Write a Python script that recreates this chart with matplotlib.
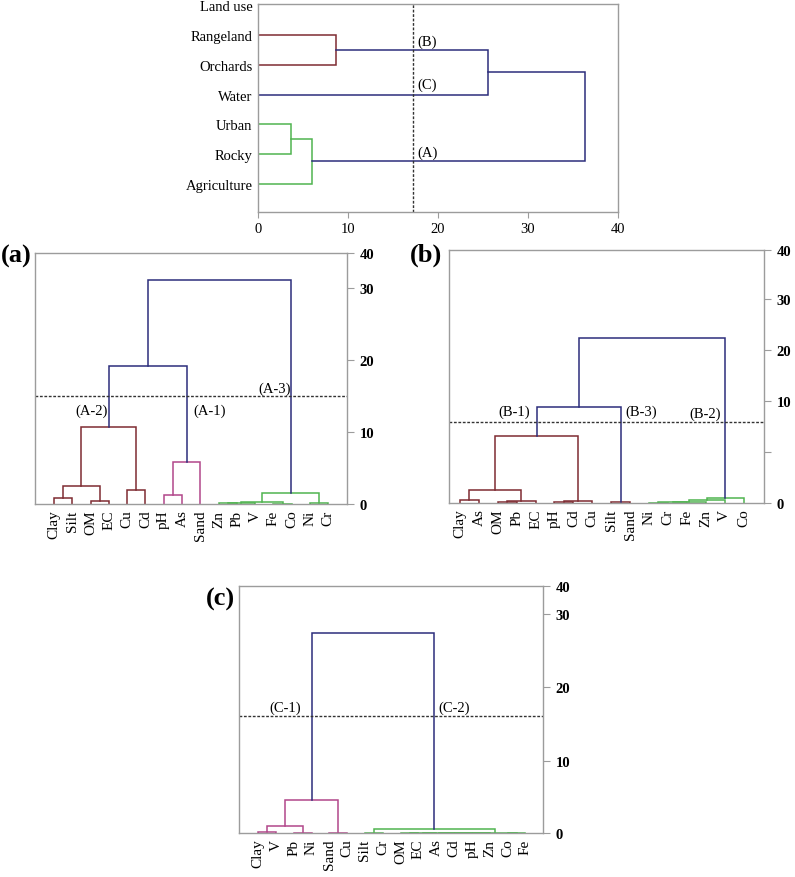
import matplotlib
matplotlib.use("Agg")
import matplotlib.pyplot as plt
import numpy as np

plt.rcParams['font.family'] = ['Liberation Serif', 'DejaVu Serif']

# ---- data ----
# top: land use tree (distance on x)
land_use = ["Rangeland", "Orchards", "Water", "Urban", "Rocky", "Agriculture"]
land_merges = [("Rangeland", "Orchards", 8.7), ("Urban", "Rocky", 3.7),
               (1, "Agriculture", 6.0), (0, "Water", 25.6), (3, 2, 36.3)]
land_groups = ["red", "green", "green", "blue", "blue"]
land_cut = 17.2

# (a)
a_leaves = ["Clay", "Silt", "OM", "EC", "Cu", "Cd", "pH", "As", "Sand",
            "Zn", "Pb", "V", "Fe", "Co", "Ni", "Cr"]
a_merges = [("Clay", "Silt", 0.8), ("OM", "EC", 0.45), (0, 1, 2.45),
            ("Cu", "Cd", 1.9), (2, 3, 10.7), ("pH", "As", 1.3),
            (5, "Sand", 5.75), (4, 6, 19.1), ("Zn", "Pb", 0.1), (8, "V", 0.15),
            ("Fe", "Co", 0.05), (9, 10, 0.32), ("Ni", "Cr", 0.14),
            (11, 12, 1.53), (7, 13, 32.3)]
a_groups = ["red"] * 5 + ["pink"] * 2 + ["blue"] + ["green"] * 6 + ["blue"]
a_cut = 14.9

# (b)
b_leaves = ["Clay", "As", "OM", "Pb", "EC", "pH", "Cd", "Cu", "Silt", "Sand",
            "Ni", "Cr", "Fe", "Zn", "V", "Co"]
b_merges = [("Clay", "As", 0.29), ("OM", "Pb", 0.07), (1, "EC", 0.15),
            (0, 2, 1.27), ("pH", "Cd", 0.05), (4, "Cu", 0.22), (3, 5, 6.58),
            ("Silt", "Sand", 0.08), (6, 7, 9.35), ("Ni", "Cr", 0.02),
            (9, "Fe", 0.06), (10, "Zn", 0.12), (11, "V", 0.32),
            (12, "Co", 0.52), (8, 13, 22.4)]
b_groups = ["red"] * 8 + ["blue"] + ["green"] * 5 + ["blue"]
b_cut = 7.95

# (c)
c_leaves = ["Clay", "V", "Pb", "Ni", "Sand", "Cu", "Silt", "Cr", "OM", "EC",
            "As", "Cd", "pH", "Zn", "Co", "Fe"]
c_merges = [("Clay", "V", 0.1), ("Pb", "Ni", 0.05), (0, 1, 1.0),
            ("Sand", "Cu", 0.05), (2, 3, 4.5), ("Silt", "Cr", 0.03),
            ("OM", "EC", 0.01), (6, "As", 0.015), (7, "Cd", 0.02),
            (8, "pH", 0.025), (9, "Zn", 0.03), ("Co", "Fe", 0.01),
            (10, 11, 0.04), (5, 12, 0.55), (4, 13, 27.4)]
c_groups = ["pink"] * 5 + ["green"] * 9 + ["blue"]
c_cut = 16.0

ticks = [0, 10, 20, 30, 40]

# ---- style ----
COL = {"red": "#7e2b32", "pink": "#b2478a", "green": "#4fb44f", "blue": "#2c2d7c"}
GRAY = "#9c9c9c"
LW = 1.1


def draw_tree(ax, leaves, merges, groups, horizontal=False, offset=0):
    pos = {name: i + offset for i, name in enumerate(leaves)}
    hts = {name: 0.0 for name in leaves}
    for k, (a, b, h) in enumerate(merges):
        xs = [pos[a], pos[a], pos[b], pos[b]]
        ys = [hts[a], h, h, hts[b]]
        if horizontal:
            ax.plot(ys, xs, color=COL[groups[k]], lw=LW, solid_joinstyle='miter')
        else:
            ax.plot(xs, ys, color=COL[groups[k]], lw=LW, solid_joinstyle='miter')
        pos[k] = (pos[a] + pos[b]) / 2
        hts[k] = h


def piecewise_scale(vals, pix):
    v = np.asarray(vals, float)
    p = np.asarray(pix, float)
    s0 = (p[1] - p[0]) / (v[1] - v[0])
    s1 = (p[-1] - p[-2]) / (v[-1] - v[-2])
    v2 = np.r_[v[0] - 1000, v, v[-1] + 1000]
    p2 = np.r_[p[0] - 1000 * s0, p, p[-1] + 1000 * s1]
    return (lambda x: np.interp(x, v2, p2)), (lambda y: np.interp(y, p2, v2))


def style_box(ax):
    for s in ax.spines.values():
        s.set_color(GRAY)
        s.set_linewidth(1.0)


fig = plt.figure(figsize=(7.95, 8.78), dpi=100)

# ---- top panel ----
ax0 = fig.add_axes([0.3245, 0.7574, 0.4528, 0.2369])
draw_tree(ax0, land_use, land_merges, land_groups, horizontal=True, offset=1)
ax0.axvline(land_cut, color="#333333", lw=1.0, ls=(0, (2, 1.2)))
ax0.set_xlim(0, 40)
ax0.set_ylim(6.95, -0.05)
ax0.set_xticks(ticks)
ax0.set_xticklabels([str(t) for t in ticks], fontsize=10.5)
ax0.set_yticks(range(len(land_use) + 1))
ax0.set_yticklabels(["Land use"] + land_use, fontsize=10.5)
ax0.tick_params(axis='y', length=0, pad=4)
ax0.tick_params(axis='x', length=4, color=GRAY, pad=3)
style_box(ax0)
for lab, yy in [("(B)", 1.2), ("(C)", 2.65), ("(A)", 4.93)]:
    ax0.text(18.8, yy, lab, fontsize=10.5, ha='center', va='center')


def bottom_panel(rect, leaves, merges, groups, cut, pix, xlim, labels):
    ax = fig.add_axes(rect)
    fwd, inv = piecewise_scale(ticks, pix)
    ax.set_yscale('function', functions=(fwd, inv))
    draw_tree(ax, leaves, merges, groups)
    ax.axhline(cut, color="#333333", lw=1.0, ls=(0, (2, 1.2)))
    ax.set_xlim(*xlim)
    ax.set_ylim(0, 40)
    ax.set_xticks(range(len(leaves)))
    ax.set_xticklabels(leaves, rotation=90, fontsize=11)
    ax.tick_params(axis='x', length=0, pad=4)
    ax.yaxis.tick_right()
    ax.set_yticks(ticks)
    ax.set_yticklabels([str(t) for t in ticks], fontsize=10.5, fontweight='bold')
    ax.yaxis.set_minor_locator(matplotlib.ticker.NullLocator())
    ax.tick_params(axis='y', length=5, color=GRAY, pad=4)
    style_box(ax)
    for lab, xx, yy in labels:
        ax.text(xx, yy, lab, fontsize=10.5, ha='center', va='center')
    return ax


axa = bottom_panel([0.044, 0.4248, 0.3925, 0.2859], a_leaves, a_merges, a_groups,
                   a_cut, [0, 72.3, 144.3, 215.7, 251], (-1.04, 16.02),
                   [("(A-2)", 2.06, 13.0), ("(A-1)", 8.53, 13.0), ("(A-3)", 12.08, 16.0)])

axb = bottom_panel([0.5648, 0.426, 0.3966, 0.2885], b_leaves, b_merges, b_groups,
                   b_cut, [0, 102.3, 153.3, 204, 253.3], (-0.58, 16.1),
                   [("(B-1)", 2.87, 8.92), ("(B-3)", 9.61, 8.92), ("(B-2)", 12.96, 8.77)])
axb.set_yticks([0, 5, 10, 20, 30, 40])
axb.set_yticklabels(["0", "", "10", "20", "30", "40"], fontsize=10.5, fontweight='bold')

axc = bottom_panel([0.301, 0.0501, 0.3824, 0.2817], c_leaves, c_merges, c_groups,
                   c_cut, [0, 72.3, 146, 219, 247.3], (-1.05, 16.0),
                   [("(C-1)", 1.53, 17.3), ("(C-2)", 11.0, 17.3)])

# panel letters
for letter, px, py in [("(a)", 1, 256), ("(b)", 410, 255), ("(c)", 206, 599)]:
    fig.text(px / 795, 1 - py / 878, letter, fontsize=19, fontweight='bold',
             ha='left', va='center')

fig.savefig("out.png", dpi=100)
